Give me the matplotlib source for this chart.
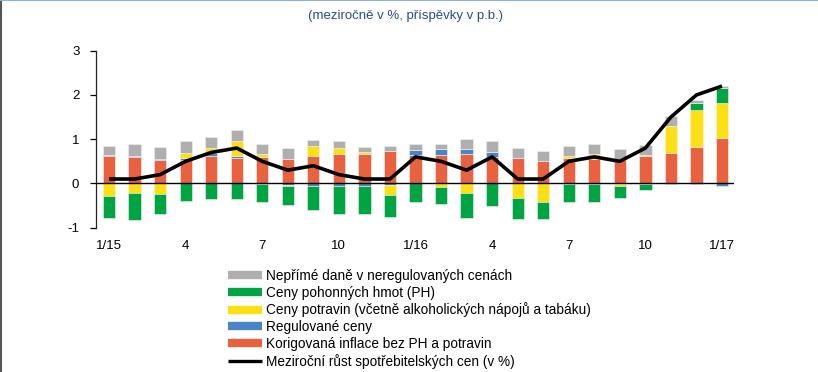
import numpy as np
import matplotlib
matplotlib.use("Agg")
import matplotlib.pyplot as plt
from matplotlib.lines import Line2D

plt.rcParams['font.family'] = ['Liberation Sans', 'DejaVu Sans']

# ---- data ----
months = ["1/15", "", "", "4", "", "", "7", "", "", "10", "", "",
          "1/16", "", "", "4", "", "", "7", "", "", "10", "", "", "1/17"]
korig = [0.63, 0.60, 0.53, 0.54, 0.62, 0.58, 0.60, 0.56, 0.62, 0.66, 0.67, 0.74,
         0.64, 0.65, 0.66, 0.59, 0.58, 0.51, 0.58, 0.56, 0.52, 0.63, 0.69, 0.82, 1.02]
regul = [0.02, 0.03, 0.03, 0.03, 0.06, 0.05, -0.02, -0.04, -0.06, -0.06, -0.06, -0.03,
         0.12, 0.12, 0.11, 0.12, 0.0, 0.0, -0.01, -0.01, -0.01, -0.01, -0.02, -0.02, -0.05]
potraviny = [-0.28, -0.21, -0.23, 0.11, 0.12, 0.32, 0.06, -0.02, 0.22, 0.13, 0.03, -0.22,
             0.0, -0.09, -0.21, 0.0, -0.32, -0.43, 0.05, 0.10, -0.05, 0.01, 0.61, 0.85, 0.79]
ph = [-0.51, -0.62, -0.45, -0.40, -0.36, -0.36, -0.41, -0.43, -0.54, -0.63, -0.63, -0.50,
      -0.41, -0.38, -0.56, -0.51, -0.49, -0.38, -0.42, -0.40, -0.26, -0.13, 0.0, 0.14, 0.35]
dane = [0.19, 0.27, 0.27, 0.27, 0.25, 0.25, 0.24, 0.24, 0.15, 0.16, 0.13, 0.11,
        0.13, 0.13, 0.23, 0.24, 0.23, 0.23, 0.22, 0.23, 0.25, 0.22, 0.23, 0.07, 0.04]
cpi = [0.1, 0.1, 0.2, 0.5, 0.7, 0.8, 0.5, 0.3, 0.4, 0.2, 0.1, 0.1,
       0.6, 0.5, 0.3, 0.6, 0.1, 0.1, 0.5, 0.6, 0.5, 0.8, 1.5, 2.0, 2.2]

labels = ["Nepřímé daně v neregulovaných cenách",
          "Ceny pohonných hmot (PH)",
          "Ceny potravin (včetně alkoholických nápojů a tabáku)",
          "Regulované ceny",
          "Korigovaná inflace bez PH a potravin",
          "Meziroční růst spotřebitelských cen (v %)"]

c_gray = '#AFAFAF'
c_green = '#00A443'
c_yellow = '#FCE014'
c_blue = '#4A83C6'
c_orange = '#E9623F'

fig = plt.figure(figsize=(8.18, 3.72), dpi=100)
ax = fig.add_axes([96/818, (372-227.7)/372, (734-96)/818, (227.7-50.7)/372])

x = np.arange(len(months))
series = [(korig, c_orange), (regul, c_blue), (potraviny, c_yellow), (ph, c_green), (dane, c_gray)]
pos_b = np.zeros(len(x))
neg_b = np.zeros(len(x))
w = 0.48
for vals, col in series:
    v = np.array(vals, dtype=float)
    bottom = np.where(v >= 0, pos_b, neg_b)
    ax.bar(x, v, w, bottom=bottom, color=col, edgecolor='#f2f2f2', linewidth=0.4, zorder=2)
    pos_b = pos_b + np.where(v > 0, v, 0)
    neg_b = neg_b + np.where(v < 0, v, 0)

ax.axhline(0, color='black', lw=1.0, zorder=3)
ax.plot(x, cpi, color='black', lw=2.6, zorder=4, solid_capstyle='butt')

ax.set_ylim(-1, 3)
ax.set_xlim(-0.51, 24.47)
ax.set_yticks([-1, 0, 1, 2, 3])
ax.set_yticklabels(['-1', '0', '1', '2', '3'])
ax.set_xticks(x)
ax.set_xticklabels(months)
ax.tick_params(axis='x', length=0, pad=9, labelsize=9.5)
ax.tick_params(axis='y', length=4, width=0.9, direction='out', pad=8, labelsize=9.5)
for s in ['top', 'right', 'bottom']:
    ax.spines[s].set_visible(False)
ax.spines['left'].set_color('#222222')
ax.spines['left'].set_linewidth(0.9)

fig.text(406/818, 1 - 16/372, "(meziročně v %, příspěvky v p.b.)", ha='center', va='center',
         fontsize=9.5, color='#23508C')

handles = [Line2D([], [], color=c_gray, lw=6, solid_capstyle='butt'),
           Line2D([], [], color=c_green, lw=6, solid_capstyle='butt'),
           Line2D([], [], color=c_yellow, lw=6, solid_capstyle='butt'),
           Line2D([], [], color=c_blue, lw=6, solid_capstyle='butt'),
           Line2D([], [], color=c_orange, lw=6, solid_capstyle='butt'),
           Line2D([], [], color='black', lw=2.4, solid_capstyle='butt')]
fig.legend(handles, labels, loc='upper left', bbox_to_anchor=(228/818, 1 - 269/372),
           frameon=False, fontsize=9.8, handlelength=2.5, handletextpad=0.3,
           labelspacing=0.2, borderpad=0, borderaxespad=0)

# figure frame lines
fig.add_artist(Line2D([0.001, 0.001], [0, 1], transform=fig.transFigure, color='#555555', lw=1.5))
fig.add_artist(Line2D([0, 1], [0.999, 0.999], transform=fig.transFigure, color='#8FB0D0', lw=1.5))

fig.savefig('out.png', dpi=100)
